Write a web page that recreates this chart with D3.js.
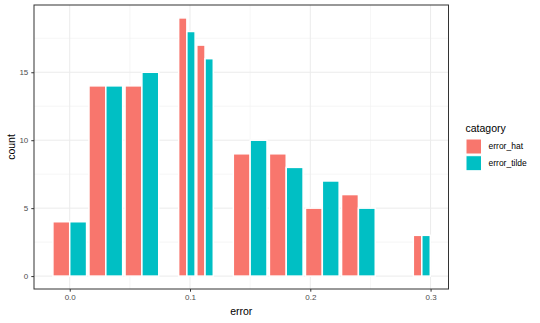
<!DOCTYPE html>
<html>
<head>
<meta charset="utf-8">
<script src="https://cdn.jsdelivr.net/npm/d3@7/dist/d3.min.js"></script>
<style>
  body { margin: 0; background: #fff; }
  svg { display: block; font-family: "Liberation Sans", Arial, sans-serif; }
</style>
</head>
<body>
<svg id="chart" width="540" height="323"></svg>
<script>
// ---- data ----
const binCenters = [0.0, 0.03, 0.06, 0.0974, 0.1125, 0.15, 0.18, 0.21, 0.24, 0.2927];
const binWidths  = [0.028, 0.028, 0.028, 0.0137, 0.0137, 0.028, 0.028, 0.028, 0.028, 0.0141];
const errorHat   = [4, 14, 14, 19, 17, 9, 9, 5, 6, 3];
const errorTilde = [4, 14, 15, 18, 16, 10, 8, 7, 5, 3];
const seriesNames = ["error_hat", "error_tilde"];
const seriesColors = ["#F8766D", "#00BFC4"];
const xTicks = [0.0, 0.1, 0.2, 0.3];
const xMinor = [0.05, 0.15, 0.25];
const yTicks = [0, 5, 10, 15];
const yMinor = [2.5, 7.5, 12.5, 17.5];

const svg = d3.select("#chart");
const panel = { left: 34, top: 5, right: 448.5, bottom: 289 };

const x = d3.scaleLinear().domain([-0.0297, 0.3149]).range([panel.left, panel.right]);
const y = d3.scaleLinear().domain([-0.95, 19.95]).range([panel.bottom, panel.top]);

// panel background
svg.append("rect").attr("x", panel.left).attr("y", panel.top)
  .attr("width", panel.right - panel.left).attr("height", panel.bottom - panel.top)
  .attr("fill", "#fff");

// grids
const g = svg.append("g");
g.selectAll(".ymin").data(yMinor).join("line")
  .attr("x1", panel.left).attr("x2", panel.right)
  .attr("y1", d => y(d)).attr("y2", d => y(d))
  .attr("stroke", "#F0F0F0").attr("stroke-width", 0.6);
g.selectAll(".xmin").data(xMinor).join("line")
  .attr("y1", panel.top).attr("y2", panel.bottom)
  .attr("x1", d => x(d)).attr("x2", d => x(d))
  .attr("stroke", "#F0F0F0").attr("stroke-width", 0.6);
g.selectAll(".ymaj").data(yTicks).join("line")
  .attr("x1", panel.left).attr("x2", panel.right)
  .attr("y1", d => y(d)).attr("y2", d => y(d))
  .attr("stroke", "#EBEBEB").attr("stroke-width", 1);
g.selectAll(".xmaj").data(xTicks).join("line")
  .attr("y1", panel.top).attr("y2", panel.bottom)
  .attr("x1", d => x(d)).attr("x2", d => x(d))
  .attr("stroke", "#EBEBEB").attr("stroke-width", 1);

// bars
const bars = [];
binCenters.forEach((c, i) => {
  const w = binWidths[i];
  const left = c - w / 2;
  [errorHat[i], errorTilde[i]].forEach((v, s) => {
    bars.push({ x0: left + s * w / 2, x1: left + (s + 1) * w / 2, v, s });
  });
});
svg.append("g").selectAll("rect").data(bars).join("rect")
  .attr("x", d => x(d.x0))
  .attr("width", d => x(d.x1) - x(d.x0))
  .attr("y", d => y(d.v))
  .attr("height", d => y(0) - y(d.v))
  .attr("fill", d => seriesColors[d.s])
  .attr("stroke", "#fff").attr("stroke-width", 1.5);

// panel border
svg.append("rect").attr("x", panel.left).attr("y", panel.top)
  .attr("width", panel.right - panel.left).attr("height", panel.bottom - panel.top)
  .attr("fill", "none").attr("stroke", "#333").attr("stroke-width", 1);

// axes
const xAxis = d3.axisBottom(x).tickValues(xTicks).tickFormat(d3.format(".1f")).tickSize(2.7).tickPadding(3);
const yAxis = d3.axisLeft(y).tickValues(yTicks).tickFormat(d3.format("d")).tickSize(2.7).tickPadding(3);
const xa = svg.append("g").attr("transform", `translate(0,${panel.bottom})`).call(xAxis);
const ya = svg.append("g").attr("transform", `translate(${panel.left},0)`).call(yAxis);
[xa, ya].forEach(a => {
  a.select(".domain").remove();
  a.selectAll(".tick line").attr("stroke", "#333").attr("stroke-width", 1);
  a.selectAll(".tick text").attr("fill", "#4D4D4D").style("font-size", "8px");
});

// axis titles
svg.append("text").attr("x", (panel.left + panel.right) / 2).attr("y", 315)
  .attr("text-anchor", "middle").style("font-size", "10.5px").attr("fill", "#000").text("error");
svg.append("text").attr("transform", `translate(15,${(panel.top + panel.bottom) / 2}) rotate(-90)`)
  .attr("text-anchor", "middle").style("font-size", "10.5px").attr("fill", "#000").text("count");

// legend
const lg = svg.append("g").attr("transform", "translate(465.5,0)");
lg.append("text").attr("x", 0).attr("y", 132).style("font-size", "10.5px").attr("fill", "#000").text("catagory");
seriesNames.forEach((n, i) => {
  const yy = 139 + i * 16.7;
  lg.append("rect").attr("x", 0.5).attr("y", yy).attr("width", 15.5).attr("height", 15)
    .attr("fill", seriesColors[i]).attr("stroke", "#fff").attr("stroke-width", 1);
  lg.append("text").attr("x", 23).attr("y", yy + 7.5).attr("dy", "0.35em")
    .style("font-size", "8.5px").attr("fill", "#000").text(n);
});
</script>
</body>
</html>
